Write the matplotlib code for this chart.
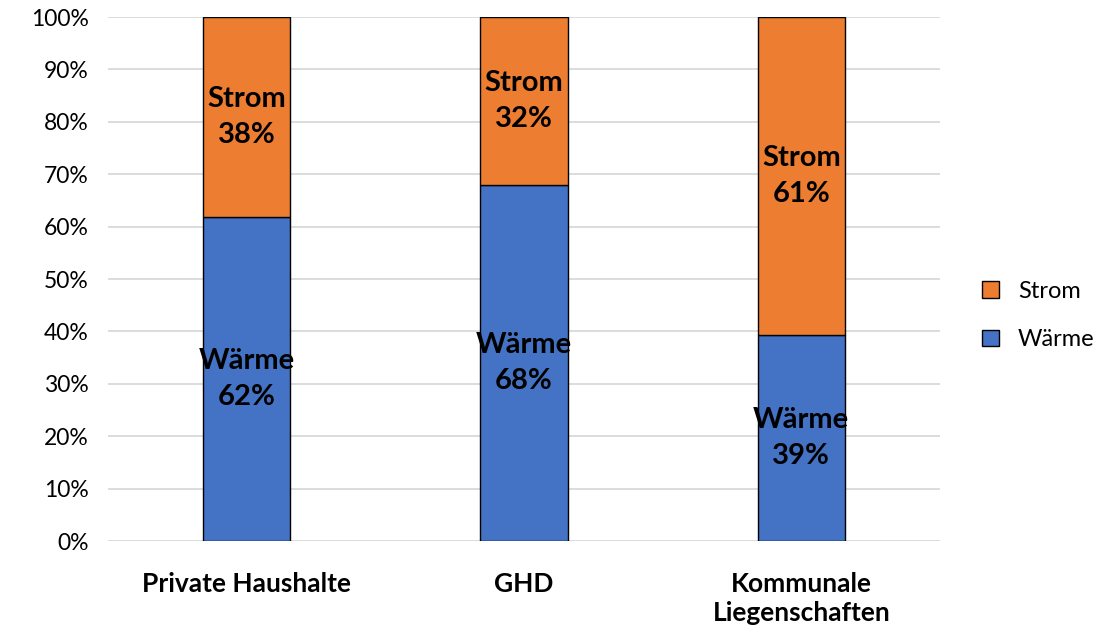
import matplotlib.pyplot as plt

plt.rcParams['font.family'] = ['Lato', 'DejaVu Sans']

categories = ["Private Haushalte", "GHD", "Kommunale\nLiegenschaften"]
waerme = [61.8, 68.0, 39.4]
strom = [38.2, 32.0, 60.6]
waerme_labels = ["Wärme\n62%", "Wärme\n68%", "Wärme\n39%"]
strom_labels = ["Strom\n38%", "Strom\n32%", "Strom\n61%"]

blue = "#4472C4"
orange = "#ED7D31"

fig = plt.figure(figsize=(11.15, 6.31), dpi=100)
ax = fig.add_axes([0.0969, 0.1426, 0.7461, 0.8304])

x = range(len(categories))
b1 = ax.bar(x, waerme, width=0.314, color=blue, edgecolor="black", linewidth=1.0,
            label="Wärme", zorder=3)
b2 = ax.bar(x, strom, width=0.314, bottom=waerme, color=orange, edgecolor="black",
            linewidth=1.0, label="Strom", zorder=3)

for i in x:
    ax.text(i, waerme[i] / 2, waerme_labels[i], ha="center", va="center",
            fontsize=21, fontweight="bold", linespacing=1.5, zorder=4)
    ax.text(i, waerme[i] + strom[i] / 2, strom_labels[i], ha="center", va="center",
            fontsize=21, fontweight="bold", linespacing=1.5, zorder=4)

ax.set_xlim(-0.5, 2.5)
ax.set_ylim(0, 100)
ax.set_yticks(range(0, 101, 10))
ax.set_yticklabels([f"{v}%" for v in range(0, 101, 10)], fontsize=16.5)
ax.set_xticks(list(x))
ax.set_xticklabels(categories, fontsize=19, fontweight="bold", linespacing=1.25)
ax.tick_params(axis="both", length=0)
ax.tick_params(axis="x", pad=22)
ax.tick_params(axis="y", pad=14)

ax.grid(axis="y", color="#d9d9d9", linewidth=1.3, zorder=0)
for s in ax.spines.values():
    s.set_visible(False)

handles = [b2, b1]
fig.legend(handles, ["Strom", "Wärme"], loc="center left", bbox_to_anchor=(0.881, 0.5),
           frameon=False, fontsize=17, handlelength=0.7, handleheight=0.7,
           labelspacing=1.15, handletextpad=0.8, borderpad=0, borderaxespad=0)

plt.savefig("out.png", dpi=100)
